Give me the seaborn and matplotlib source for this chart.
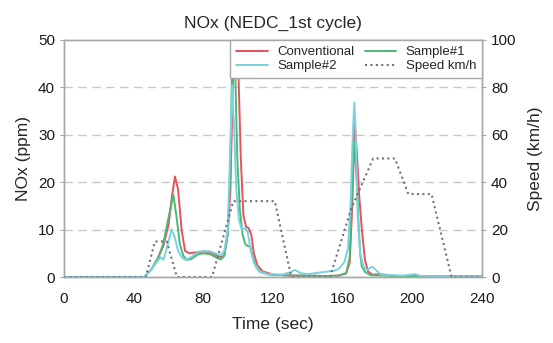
import matplotlib
matplotlib.use("Agg")
import matplotlib.pyplot as plt
import pandas as pd
import seaborn as sns
from matplotlib.lines import Line2D

# values (time in s, NOx in ppm, speed in km/h)
conv_t = [0, 46, 50, 54, 57, 60, 62, 63.7, 65.5, 67.5, 69.5, 72, 76, 80, 84, 88, 90, 92,
          94, 95.5, 97, 98.5, 100, 101.5, 103, 104.5, 106, 107.5, 109, 111, 114, 120, 130,
          140, 150, 158, 162, 164, 165.5, 166.5, 167, 168, 169.5, 171, 172.8, 174.5, 177,
          181.6, 190, 240]
conv_v = [0, 0, 1.5, 4, 6.5, 11, 17, 21.2, 18.5, 10, 5.5, 5, 5.2, 5.4, 5.2, 4.5, 4.2, 4.5,
          9, 18, 42, 60, 45, 25, 13, 10.6, 10.3, 9, 5, 2.5, 1.2, 0.5, 0.3,
          0.3, 0.2, 0.3, 0.8, 3, 15, 28, 32, 27, 17, 10, 3.6, 1.2, 0.5,
          0.6, 0.2, 0.1]

s1_t = [0, 46, 50, 54, 57, 60, 62.8, 64.5, 66.5, 68.5, 70.5, 73, 77, 80, 84, 88, 90, 92,
        94, 95.5, 96.5, 97.3, 98.2, 99.5, 101, 102.5, 104, 105.5, 107, 108.5, 110.5, 113,
        118, 130, 140, 150, 158, 162, 164, 165.5, 166.7, 167.8, 169, 170, 171, 173, 176,
        190, 240]
s1_v = [0, 0, 1.5, 4, 7, 12.5, 17.3, 13, 7, 4.5, 3.6, 3.8, 4.8, 5.0, 4.8, 4.0, 3.7, 4.5,
        9, 22, 45, 58, 45, 25, 14, 9, 7, 6.5, 6.5, 4, 2, 1,
        0.5, 0.3, 0.3, 0.2, 0.3, 0.8, 4, 20, 28.5, 22, 12, 5, 2.2, 1, 0.4,
        0.2, 0.1]

s2_t = [0, 46, 50, 54, 55.5, 57, 59, 61.8, 63.5, 65.5, 68, 70, 73, 77, 80, 84, 88, 90, 92,
        94, 95.5, 96.6, 97.8, 99, 100.5, 102, 104, 105.5, 107, 109, 112, 117, 125, 130,
        132.6, 136, 140, 148, 155, 158, 161, 163, 164.5, 165.8, 166.7, 167.5, 168.6, 170,
        172, 174, 177, 179, 182, 195, 201.5, 205, 240]
s2_v = [0, 0, 1.5, 3.5, 4.2, 3.6, 6, 10.1, 8.5, 5.5, 4, 3.6, 4.2, 5.3, 5.5, 5.4, 4.8, 4.6, 5.5,
        10, 28, 40.5, 30, 18, 12, 10, 10.3, 9.5, 6, 3, 1.2, 0.6, 0.5, 1.0,
        1.5, 0.8, 0.6, 1.0, 1.3, 1.8, 3.2, 6, 15, 30, 36.8, 30, 13, 5,
        2.2, 1.5, 2.2, 1.5, 0.5, 0.3, 0.6, 0.2, 0.1]

speed_t = [0, 47, 52.2, 59, 64.8, 85, 97.2, 121, 130.5, 152.7, 165, 177.5, 190, 197.7,
           211, 222.5, 240]
speed_v = [0, 0, 15, 15, 0, 0, 32, 32, 0, 0, 29, 50, 50, 35, 35, 0, 0]

x_ticks = [0, 40, 80, 120, 160, 200, 240]
nox_ticks = [0, 10, 20, 30, 40, 50]
speed_ticks = [0, 20, 40, 60, 80, 100]

RED = "#e8505e"
GREEN = "#4cb878"
CYAN = "#78d2e0"
GRAY = "#70707a"
DOTS = (0, (1, 1.6))

sns.set_style("white")
plt.rcParams["font.family"] = ["Liberation Sans", "DejaVu Sans"]

fig = plt.figure(figsize=(5.53, 3.43), dpi=100)
ax = fig.add_axes([0.1157, 0.1924, 0.756, 0.691])
ax2 = ax.twinx()

series = [
    ("Conventional", conv_t, conv_v, RED),
    ("Sample#1", s1_t, s1_v, GREEN),
    ("Sample#2", s2_t, s2_v, CYAN),
]
for name, t, v, c in series:
    df = pd.DataFrame({"t": t, "v": v})
    sns.lineplot(data=df, x="t", y="v", ax=ax, color=c, lw=1.4, label=None)

spd = pd.DataFrame({"t": speed_t, "v": speed_v})
sns.lineplot(data=spd, x="t", y="v", ax=ax2, color=GRAY, lw=1.5,
             linestyle=DOTS, label=None)

ax.set_xlim(0, 240)
ax.set_ylim(0, 50)
ax2.set_ylim(0, 100)
ax.set_xticks(x_ticks)
ax.set_yticks(nox_ticks)
ax2.set_yticks(speed_ticks)

for y in nox_ticks[1:-1]:
    ax.axhline(y, color="#c8c8c8", lw=1.0, ls=(0, (6, 4)), zorder=0)

for a in (ax, ax2):
    for sp in a.spines.values():
        sp.set_color("#a8a8a8")
        sp.set_linewidth(1.0)
    a.tick_params(labelsize=11, colors="#a8a8a8", labelcolor="#1a1a1a", length=3)
ax.tick_params(axis="x", length=0, pad=11)

ax.set_xlabel("Time (sec)", fontsize=12.5, labelpad=8)
ax.set_ylabel("NOx (ppm)", fontsize=12.5, labelpad=5)
ax2.set_ylabel("Speed (km/h)", fontsize=12.5, labelpad=8)
ax.set_title("NOx (NEDC_1st cycle)", fontsize=12.5, pad=9)

handles = [
    Line2D([], [], color=RED, lw=1.4),
    Line2D([], [], color=CYAN, lw=1.4),
    Line2D([], [], color=GREEN, lw=1.4),
    Line2D([], [], color=GRAY, lw=1.5, ls=DOTS),
]
labels = ["Conventional", "Sample#2", "Sample#1", "Speed km/h"]
leg = ax2.legend(handles, labels, ncol=2, loc="upper right", borderaxespad=0,
                 fontsize=9.5, frameon=True, fancybox=False, handlelength=2.4,
                 columnspacing=0.8, labelspacing=0.15, borderpad=0.45,
                 handletextpad=0.7)
leg.get_frame().set_edgecolor("#a8a8a8")
leg.get_frame().set_linewidth(1.0)
leg.get_frame().set_alpha(1)

fig.savefig("out.png", dpi=100)
